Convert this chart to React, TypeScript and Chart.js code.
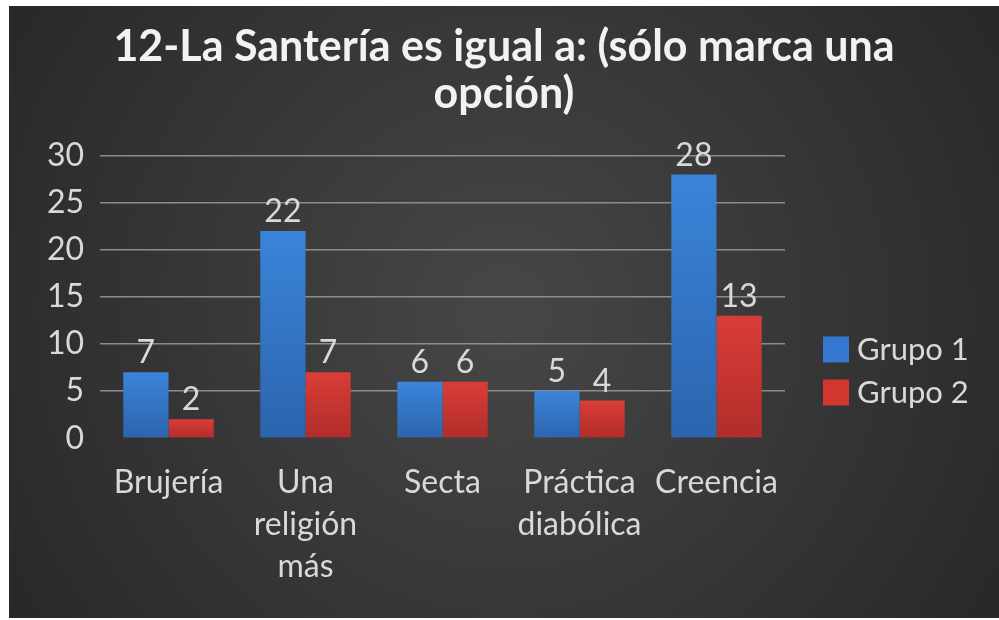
import React, { useEffect, useRef } from 'react';
import { Chart, registerables } from 'chart.js';

Chart.register(...registerables);

const titleLines = ['12-La Santería es igual a: (sólo marca una', 'opción)'];
const categories = [['Brujería'], ['Una', 'religión', 'más'], ['Secta'], ['Práctica', 'diabólica'], ['Creencia']];
const seriesNames = ['Grupo 1', 'Grupo 2'];
const grupo1 = [7, 22, 6, 5, 28];
const grupo2 = [2, 7, 6, 4, 13];
const yMin = 0;
const yMax = 30;
const yStep = 5;

const FONT = 'Lato, Calibri, Carlito, sans-serif';
const TEXT = '#d9d9d9';
const FS = 32;

const barGradient = (top: string, bottom: string) => (ctx: any) => {
  const chart = ctx.chart;
  if (!chart.chartArea || ctx.type !== 'data') return top;
  const y = chart.scales.y;
  const y0 = y.getPixelForValue(ctx.raw as number);
  const y1 = y.getPixelForValue(0);
  if (!isFinite(y0) || !isFinite(y1) || y0 === y1) return top;
  const g = chart.ctx.createLinearGradient(0, y0, 0, y1);
  g.addColorStop(0, top);
  g.addColorStop(1, bottom);
  return g;
};

const backgroundPlugin = {
  id: 'bgRadial',
  beforeDraw(chart: any) {
    const { ctx, width, height } = chart;
    ctx.save();
    const cx = width / 2;
    const cy = height / 2;
    const g = ctx.createRadialGradient(cx, cy, 0, cx, cy, Math.hypot(cx, cy));
    g.addColorStop(0, '#474747');
    g.addColorStop(1, '#282828');
    ctx.fillStyle = g;
    ctx.fillRect(0, 0, width, height);
    ctx.restore();
  },
};

const valueLabelPlugin = {
  id: 'valueLabels',
  afterDatasetsDraw(chart: any) {
    const { ctx } = chart;
    ctx.save();
    ctx.font = `${FS}px ${FONT}`;
    ctx.fillStyle = TEXT;
    ctx.textAlign = 'center';
    ctx.textBaseline = 'alphabetic';
    chart.data.datasets.forEach((ds: any, i: number) => {
      const meta = chart.getDatasetMeta(i);
      meta.data.forEach((el: any, j: number) => {
        ctx.fillText(String(ds.data[j]), el.x, el.y - 9);
      });
    });
    ctx.restore();
  },
};

const legendPlugin = {
  id: 'sideLegend',
  afterDraw(chart: any) {
    const { ctx, chartArea } = chart;
    const box = 26;
    const rowH = 43;
    const n = chart.data.datasets.length;
    const centerY = (chartArea.top + chartArea.bottom) / 2 + 74;
    const startY = centerY - (rowH * (n - 1)) / 2;
    const x = chartArea.right + 38;
    ctx.save();
    ctx.font = `${FS - 1}px ${FONT}`;
    ctx.textBaseline = 'middle';
    ctx.textAlign = 'left';
    chart.data.datasets.forEach((ds: any, i: number) => {
      const cy = startY + i * rowH;
      ctx.fillStyle = ds.legendColor;
      ctx.fillRect(x, cy - box / 2, box, box);
      ctx.fillStyle = TEXT;
      ctx.fillText(ds.label, x + box + 8, cy + 1);
    });
    ctx.restore();
  },
};

export default function App() {
  const ref = useRef<HTMLCanvasElement | null>(null);

  useEffect(() => {
    if (!ref.current) return;
    const chart = new Chart(ref.current, {
      type: 'bar',
      data: {
        labels: categories as any,
        datasets: [
          {
            label: seriesNames[0],
            data: grupo1,
            backgroundColor: barGradient('#3a84da', '#2c64ad'),
            legendColor: '#3479cf',
            borderWidth: 0,
            yAxisID: 'y',
          } as any,
          {
            label: seriesNames[1],
            data: grupo2,
            backgroundColor: barGradient('#da3d37', '#b02d2a'),
            legendColor: '#d2362f',
            borderWidth: 0,
            yAxisID: 'y',
          } as any,
        ],
      },
      options: {
        animation: false,
        responsive: true,
        maintainAspectRatio: false,
        layout: { padding: { left: 0, right: 0, top: 0, bottom: 7 } },
        datasets: {
          bar: { categoryPercentage: 0.66, barPercentage: 1.0 },
        },
        plugins: {
          legend: { display: false },
          tooltip: { enabled: false },
          title: {
            display: true,
            text: titleLines,
            color: '#f2f2f2',
            font: { family: FONT, size: 43, weight: 'bold', lineHeight: 1.09 },
            padding: { top: 18, bottom: 38 },
          },
        },
        scales: {
          x: {
            grid: { display: false, drawTicks: false },
            border: { display: false },
            ticks: {
              color: TEXT,
              font: { family: FONT, size: FS, lineHeight: 1.3 },
              padding: 24,
              maxRotation: 0,
              autoSkip: false,
            },
          },
          y: {
            min: yMin,
            max: yMax,
            grid: {
              drawTicks: false,
              color: (c: any) => (c.tick && c.tick.value === 0 ? 'rgba(0,0,0,0)' : '#8c8c8c'),
              lineWidth: 1.5,
            },
            border: { display: false },
            ticks: {
              stepSize: yStep,
              color: TEXT,
              font: { family: FONT, size: FS },
              padding: 16,
            },
            afterFit(scale: any) {
              scale.width = 91;
            },
          },
          legendSpace: {
            type: 'linear',
            position: 'right',
            display: true,
            grid: { display: false, drawTicks: false },
            border: { display: false },
            ticks: { display: false },
            afterFit(scale: any) {
              scale.width = 214;
            },
          },
        },
      },
      plugins: [backgroundPlugin, valueLabelPlugin, legendPlugin],
    } as any);
    return () => chart.destroy();
  }, []);

  return (
    <div style={{ position: 'absolute', left: 9, top: 6, width: 990, height: 612 }}>
      <canvas ref={ref} />
    </div>
  );
}
